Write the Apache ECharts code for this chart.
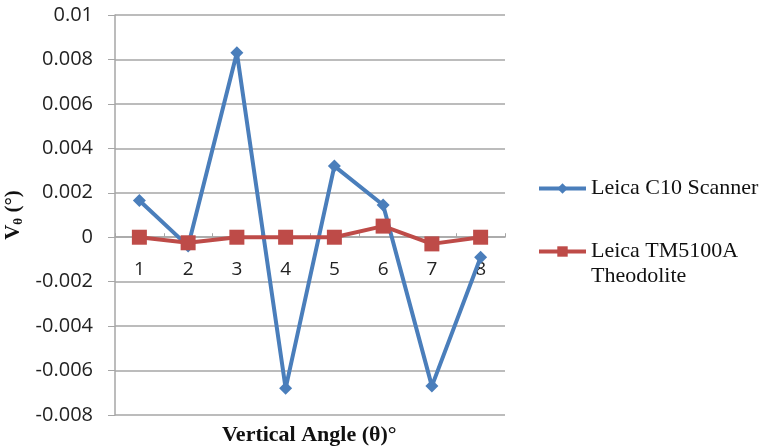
<!DOCTYPE html>
<html>
<head>
<meta charset="utf-8">
<script src="https://cdn.jsdelivr.net/npm/echarts@6/dist/echarts.min.js"></script>
<style>
  html, body { margin: 0; padding: 0; background: #fff; }
  #chart { width: 762px; height: 447px; }
</style>
</head>
<body>
<div id="chart"></div>
<script>
// Vertical angle index along the x axis
const categories = ['1', '2', '3', '4', '5', '6', '7', '8'];

// Vθ deviations (degrees) per instrument
const scannerValues = [0.00165, -0.0004, 0.0083, -0.0068, 0.0032, 0.00145, -0.0067, -0.0009];
const theodoliteValues = [0, -0.00025, 0, 0, 0, 0.0005, -0.0003, 0];

const seriesNames = ['Leica C10 Scanner', 'Leica TM5100A\nTheodolite'];

const yMin = -0.008, yMax = 0.01, yStep = 0.002;

const serif = '"Liberation Serif", "Times New Roman", serif';
const sans = '"Open Sans", "Liberation Sans", sans-serif';
const gridColor = '#a6a6a6';

const chart = echarts.init(document.getElementById('chart'), null, { renderer: 'canvas' });

chart.setOption({
  animation: false,
  backgroundColor: '#ffffff',
  grid: { left: 115, right: 257, top: 15, bottom: 32, outerBoundsMode: 'none', containLabel: false },
  title: {
    text: 'Vertical Angle (θ)°',
    left: 217,
    top: 419,
    textStyle: { fontFamily: serif, fontSize: 22, fontWeight: 'bold', color: '#111' }
  },
  legend: {
    orient: 'vertical',
    left: 532,
    top: 171,
    itemGap: 13,
    itemWidth: 47,
    itemHeight: 13,
    lineStyle: { width: 4 },
    textStyle: { fontFamily: serif, fontSize: 22, color: '#111', lineHeight: 25 },
    // a leading blank line keeps the first line of a wrapped label beside its icon
    formatter: name => name.indexOf('\n') >= 0 ? '\n' + name : name,
    data: seriesNames
  },
  xAxis: {
    type: 'category',
    data: categories,
    boundaryGap: true,
    axisLine: { onZero: false, lineStyle: { color: gridColor, width: 1.5 } },
    axisTick: { show: true, alignWithLabel: false, inside: true, length: 4, lineStyle: { color: gridColor } },
    axisLabel: { fontFamily: sans, fontSize: 19, color: '#222', margin: 23 },
    splitLine: { show: false }
  },
  yAxis: {
    type: 'value',
    min: yMin,
    max: yMax,
    interval: yStep,
    name: '{b|V}{s|θ}{b| (°)}',
    nameLocation: 'middle',
    nameRotate: 90,
    nameGap: 86,
    nameTextStyle: {
      rich: {
        b: { fontFamily: serif, fontSize: 21, fontWeight: 'bold', color: '#111' },
        s: { fontFamily: serif, fontSize: 13, fontWeight: 'bold', color: '#111', verticalAlign: 'bottom', padding: [10, 0, 0, 0] }
      }
    },
    axisLine: { show: true, lineStyle: { color: gridColor, width: 1.5 } },
    axisTick: { show: true, length: 7, lineStyle: { color: gridColor } },
    axisLabel: {
      fontFamily: sans, fontSize: 20, color: '#222', margin: 22,
      formatter: v => String(parseFloat(v.toFixed(4)))
    },
    splitLine: { show: true, lineStyle: { color: gridColor, width: 1.5 } }
  },
  series: [
    {
      name: seriesNames[0],
      type: 'line',
      data: scannerValues,
      symbol: 'diamond',
      symbolSize: 13,
      lineStyle: { color: '#4a7ebb', width: 4 },
      itemStyle: { color: '#4a7ebb' },
      z: 2
    },
    {
      name: seriesNames[1],
      type: 'line',
      data: theodoliteValues,
      symbol: 'rect',
      symbolSize: 15,
      lineStyle: { color: '#be4b48', width: 4 },
      itemStyle: { color: '#be4b48' },
      z: 3
    }
  ]
});

// Move the category axis (line, ticks and labels) up to the y = 0 level
const zeroY = chart.convertToPixel({ yAxisIndex: 0 }, 0);
const bottomY = chart.convertToPixel({ yAxisIndex: 0 }, yMin);
chart.setOption({ xAxis: { offset: zeroY - bottomY } });
</script>
</body>
</html>
